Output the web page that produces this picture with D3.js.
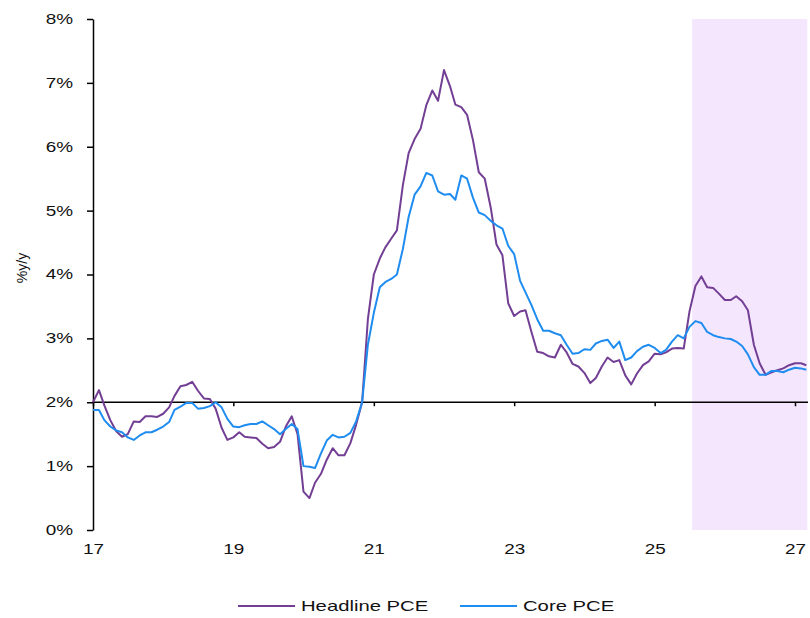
<!DOCTYPE html>
<html>
<head>
<meta charset="utf-8">
<script src="https://cdn.jsdelivr.net/npm/d3@7"></script>
<style>
  body { margin: 0; background: #fff; }
  svg text { font-family: "Liberation Sans", Arial, sans-serif; fill: #111; }
  .axis path, .axis line { stroke: #000; stroke-width: 1.5; }
</style>
</head>
<body>
<svg width="810" height="618"></svg>
<script>
// monthly series, starting Jan 2017 (%y/y)
var startMonth = new Date(2017, 0, 1);
var headline = [
  2.00, 2.19, 1.95, 1.72, 1.55, 1.46, 1.50, 1.70, 1.69, 1.78, 1.78, 1.77,
  1.82, 1.92, 2.10, 2.25, 2.27, 2.32, 2.18, 2.06, 2.05, 1.90, 1.60, 1.41,
  1.45, 1.53, 1.46, 1.45, 1.44, 1.35, 1.28, 1.30, 1.38, 1.62, 1.78, 1.50,
  0.60, 0.50, 0.74, 0.88, 1.10, 1.28, 1.17, 1.17, 1.36, 1.65, 2.00, 3.30,
  4.00, 4.25, 4.42, 4.56, 4.69, 5.40, 5.90, 6.12, 6.28, 6.65, 6.88, 6.72,
  7.20, 6.95, 6.66, 6.62, 6.50, 6.10, 5.60, 5.50, 5.05, 4.47, 4.30, 3.55,
  3.35, 3.42, 3.44, 3.10, 2.79, 2.77, 2.72, 2.70, 2.90, 2.78, 2.60, 2.56,
  2.46, 2.30, 2.38, 2.56, 2.70, 2.63, 2.66, 2.42, 2.28, 2.45, 2.58, 2.64,
  2.76, 2.75, 2.78, 2.84, 2.85, 2.84, 3.42, 3.82, 3.97, 3.80, 3.79, 3.70,
  3.60, 3.60, 3.66, 3.58, 3.44, 2.90, 2.61, 2.43, 2.47, 2.50, 2.53, 2.58,
  2.61, 2.61, 2.58
];
var core = [
  1.88, 1.88, 1.72, 1.62, 1.56, 1.53, 1.45, 1.41, 1.48, 1.53, 1.53, 1.57,
  1.62, 1.69, 1.88, 1.93, 1.99, 1.99, 1.90, 1.91, 1.94, 2.00, 1.92, 1.74,
  1.62, 1.61, 1.64, 1.66, 1.66, 1.70, 1.64, 1.58, 1.50, 1.58, 1.66, 1.58,
  1.00, 0.99, 0.97, 1.20, 1.40, 1.49, 1.45, 1.46, 1.52, 1.70, 2.00, 2.90,
  3.40, 3.80, 3.88, 3.93, 4.00, 4.40, 4.90, 5.25, 5.38, 5.59, 5.55, 5.30,
  5.25, 5.26, 5.17, 5.55, 5.50, 5.20, 4.97, 4.93, 4.84, 4.77, 4.72, 4.45,
  4.32, 3.90, 3.72, 3.52, 3.30, 3.12, 3.12, 3.08, 3.05, 2.90, 2.76, 2.77,
  2.83, 2.82, 2.92, 2.96, 2.98, 2.85, 2.95, 2.66, 2.70, 2.80, 2.87, 2.90,
  2.85, 2.77, 2.82, 2.95, 3.05, 3.00, 3.18, 3.27, 3.24, 3.10, 3.05, 3.02,
  3.00, 2.99, 2.95, 2.88, 2.75, 2.55, 2.43, 2.43, 2.49, 2.49, 2.47, 2.51,
  2.54, 2.53, 2.51
];
var seriesNames = ["Headline PCE", "Core PCE"];
var seriesColors = ["#733f94", "#1f8cf0"];
var xTickYears = [2017, 2019, 2021, 2023, 2025, 2027];
var yTicks = [0, 1, 2, 3, 4, 5, 6, 7, 8];
var forecastStart = new Date(2025, 6, 15);
var forecastEnd = new Date(2027, 2, 6);
var yLabel = "%y/y";

var svg = d3.select("svg");
var stretch = 1.35; // the source glyphs are widened horizontally

var x = d3.scaleTime()
  .domain([new Date(2017, 0, 1), new Date(2027, 0, 1)])
  .range([93, 795]);
var y = d3.scaleLinear().domain([0, 8]).range([530, 19]);

function widen(sel) {
  sel.each(function() {
    var w = this.getComputedTextLength();
    d3.select(this).attr("textLength", w * stretch).attr("lengthAdjust", "spacingAndGlyphs");
  });
}

// forecast shading
svg.append("rect")
  .attr("x", x(forecastStart))
  .attr("y", y(8))
  .attr("width", x(forecastEnd) - x(forecastStart))
  .attr("height", y(0) - y(8))
  .attr("fill", "#f4e6fd");

// y axis
var yAxis = svg.append("g")
  .attr("class", "axis")
  .attr("transform", "translate(93,0)")
  .call(d3.axisLeft(y).tickValues(yTicks).tickSize(6).tickSizeOuter(0)
    .tickFormat(function(d) { return d + "%"; }));
yAxis.selectAll("text").attr("x", -20).style("font-size", "14px").call(widen);
yAxis.selectAll(".tick line").attr("stroke-width", 1.5);

// x axis sits on the 2% line, labels at the bottom
var xAxis = svg.append("g")
  .attr("class", "axis")
  .attr("transform", "translate(0," + y(2) + ")")
  .call(d3.axisBottom(x)
    .tickValues(xTickYears.map(function(d) { return new Date(d, 0, 1); }))
    .tickSize(4).tickSizeOuter(0)
    .tickFormat(d3.timeFormat("%y")));
xAxis.select(".domain").attr("d", "M93,0H808");
xAxis.selectAll("text")
  .attr("y", y(0) - y(2) + 14)
  .style("font-size", "14px")
  .call(widen);

// lines
var line = d3.line()
  .x(function(d, i) { return x(d3.timeMonth.offset(startMonth, i)); })
  .y(function(d) { return y(d); });

svg.append("path")
  .datum(headline)
  .attr("fill", "none")
  .attr("stroke", seriesColors[0])
  .attr("stroke-width", 2)
  .attr("stroke-linejoin", "round")
  .attr("d", line);

svg.append("path")
  .datum(core)
  .attr("fill", "none")
  .attr("stroke", seriesColors[1])
  .attr("stroke-width", 2)
  .attr("stroke-linejoin", "round")
  .attr("d", line);

// y label
svg.append("text")
  .attr("text-anchor", "middle")
  .attr("transform", "translate(27,268)rotate(-90)")
  .style("font-size", "14px")
  .text(yLabel);

// legend
var legendX = [238, 460];
var legend = svg.append("g")
  .selectAll("g")
  .data(seriesNames)
  .enter().append("g")
  .attr("transform", function(d, i) { return "translate(" + legendX[i] + ",606)"; });

legend.append("line")
  .attr("x1", 0).attr("x2", 57)
  .attr("stroke", function(d, i) { return seriesColors[i]; })
  .attr("stroke-width", 2);

legend.append("text")
  .attr("x", 63)
  .attr("dy", "0.35em")
  .style("font-size", "15px")
  .text(function(d) { return d; })
  .call(widen);
</script>
</body>
</html>
